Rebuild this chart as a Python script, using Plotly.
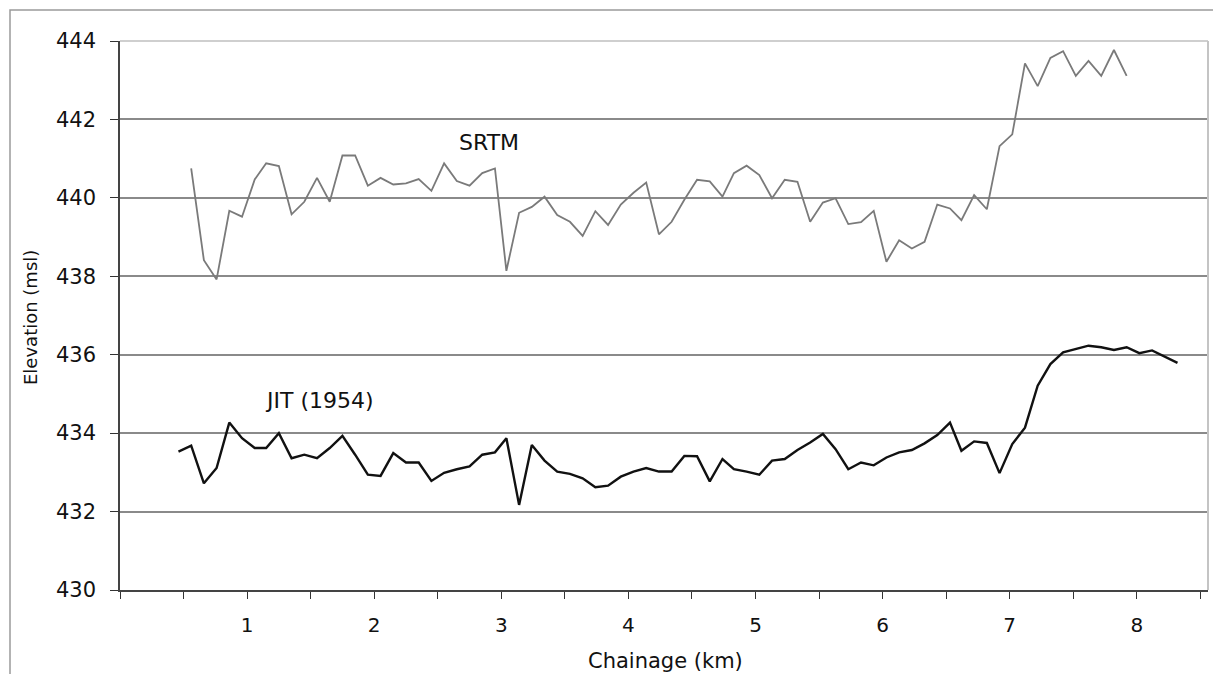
import plotly.graph_objects as go

# Chainage (km) (shared sampling grid)
CHAINAGE_JIT = [0.46, 0.56, 0.66, 0.76, 0.86, 0.96, 1.06, 1.15, 1.25, 1.35,
                1.45, 1.55, 1.65, 1.75, 1.85, 1.95, 2.05, 2.15, 2.25, 2.35,
                2.45, 2.55, 2.65, 2.75, 2.85, 2.95, 3.04, 3.14, 3.24, 3.34,
                3.44, 3.54, 3.64, 3.74, 3.84, 3.94, 4.04, 4.14, 4.24, 4.34,
                4.44, 4.54, 4.64, 4.74, 4.83, 4.93, 5.03, 5.13, 5.23, 5.33,
                5.43, 5.53, 5.63, 5.73, 5.83, 5.93, 6.03, 6.13, 6.23, 6.33,
                6.43, 6.53, 6.62, 6.72, 6.82, 6.92, 7.02, 7.12, 7.22, 7.32,
                7.42, 7.52, 7.62, 7.72, 7.82, 7.92, 8.02, 8.12, 8.22, 8.32]

CHAINAGE_SRTM = [0.56, 0.66, 0.76, 0.86, 0.96, 1.06, 1.15, 1.25, 1.35,
                 1.45, 1.55, 1.65, 1.75, 1.85, 1.95, 2.05, 2.15, 2.25, 2.35,
                 2.45, 2.55, 2.65, 2.75, 2.85, 2.95, 3.04, 3.14, 3.24, 3.34,
                 3.44, 3.54, 3.64, 3.74, 3.84, 3.94, 4.04, 4.14, 4.24, 4.34,
                 4.44, 4.54, 4.64, 4.74, 4.83, 4.93, 5.03, 5.13, 5.23, 5.33,
                 5.43, 5.53, 5.63, 5.73, 5.83, 5.93, 6.03, 6.13, 6.23, 6.33,
                 6.43, 6.53, 6.62, 6.72, 6.82, 6.92, 7.02, 7.12, 7.22, 7.32,
                 7.42, 7.52, 7.62, 7.72, 7.82, 7.92]

SRTM_ELEV = [440.75, 438.41, 437.92, 439.67, 439.52, 440.47, 440.88, 440.81, 439.58, 439.90,
             440.51, 439.90, 441.08, 441.08, 440.31, 440.51, 440.34, 440.37, 440.48, 440.18,
             440.88, 440.43, 440.31, 440.63, 440.75, 438.14, 439.62, 439.77, 440.03, 439.56,
             439.39, 439.03, 439.66, 439.31, 439.83, 440.13, 440.39, 439.07, 439.39, 439.95,
             440.46, 440.42, 440.03, 440.63, 440.82, 440.58, 439.99, 440.46, 440.41, 439.39,
             439.88, 439.99, 439.33, 439.38, 439.67, 438.37, 438.92, 438.71, 438.88, 439.83,
             439.73, 439.43, 440.07, 439.71, 441.32, 441.62, 443.43, 442.85, 443.57, 443.74,
             443.11, 443.49, 443.11, 443.77, 443.11]

JIT_ELEV = [433.53, 433.68, 432.72, 433.11, 434.27, 433.87, 433.62, 433.62, 434.00, 433.36,
            433.45, 433.36, 433.62, 433.93, 433.45, 432.94, 432.91, 433.49, 433.25, 433.25,
            432.78, 432.99, 433.08, 433.15, 433.45, 433.51, 433.87, 432.17, 433.70, 433.30,
            433.02, 432.96, 432.85, 432.62, 432.66, 432.89, 433.02, 433.11, 433.02, 433.02,
            433.42, 433.41, 432.77, 433.34, 433.08, 433.02, 432.94, 433.30, 433.34, 433.57,
            433.76, 433.98, 433.59, 433.08, 433.25, 433.18, 433.38, 433.51, 433.57, 433.74,
            433.95, 434.27, 433.55, 433.79, 433.75, 432.98, 433.72, 434.14, 435.21, 435.76,
            436.06, 436.14, 436.23, 436.19, 436.12, 436.19, 436.04, 436.11, 435.96, 435.79]

Y_TICKS = [430, 432, 434, 436, 438, 440, 442, 444]
X_TICKS = [0, 0.5, 1, 1.5, 2, 2.5, 3, 3.5, 4, 4.5, 5, 5.5, 6, 6.5, 7, 7.5, 8, 8.5]
X_TICK_TEXT = ["", "", "1", "", "2", "", "3", "", "4", "", "5", "", "6", "", "7", "", "8", ""]

FONT = "DejaVu Sans"

fig = go.Figure()
fig.add_trace(go.Scatter(x=CHAINAGE_SRTM, y=SRTM_ELEV, mode="lines", name="SRTM",
                         line=dict(color="#7a7a7a", width=1.8), showlegend=False))
fig.add_trace(go.Scatter(x=CHAINAGE_JIT, y=JIT_ELEV, mode="lines", name="JIT (1954)",
                         line=dict(color="#111111", width=2.4), showlegend=False))

# the page body has an 8px margin, so the figure starts at (8, 8)
fig.update_layout(
    width=1221, height=674,
    margin=dict(l=112, r=21, t=33, b=92),
    paper_bgcolor="white", plot_bgcolor="white",
    font=dict(family=FONT, color="#111111"),
    xaxis=dict(range=[0, 8.56], tickmode="array", tickvals=X_TICKS, ticktext=X_TICK_TEXT,
               ticks="outside", ticklen=7, tickwidth=1.2, tickcolor="#333333",
               showline=True, linecolor="#444444", linewidth=2, showgrid=False,
               zeroline=False, tickfont=dict(size=20, family=FONT, color="#111111"),
               ticklabelstandoff=9),
    yaxis=dict(range=[430, 444], tickmode="array", tickvals=Y_TICKS,
               ticks="outside", ticklen=8, tickwidth=1.2, tickcolor="#333333",
               showline=True, linecolor="#444444", linewidth=1.5,
               showgrid=True, gridcolor="#8a8a8a", gridwidth=1.8,
               zeroline=False, tickfont=dict(size=21, family=FONT, color="#111111"),
               ticklabelstandoff=10),
)

# plot-area border (light) on top and right, outer chart frame
fig.add_shape(type="line", xref="paper", yref="paper", x0=0, x1=1, y0=1, y1=1,
              line=dict(color="#cfcfcf", width=2), layer="above")
fig.add_shape(type="line", xref="paper", yref="paper", x0=1, x1=1, y0=0, y1=1,
              line=dict(color="#c4c4c4", width=2), layer="above")
fig.add_shape(type="rect", xref="paper", yref="paper", x0=-0.1011, x1=1.05, y0=-0.3, y1=1.0565,
              line=dict(color="#9a9a9a", width=1.5), layer="above")

fig.add_annotation(x=2.9, y=441.41, text="SRTM", showarrow=False,
                   font=dict(size=22, family=FONT, color="#111111"))
fig.add_annotation(x=1.57, y=434.82, text="JIT (1954)", showarrow=False,
                   font=dict(size=22, family=FONT, color="#111111"))

fig.add_annotation(xref="paper", yref="paper", x=(665 - 120) / 1088, y=-(661 - 590) / 549,
                   xanchor="center", yanchor="middle",
                   text="Chainage (km)", showarrow=False,
                   font=dict(size=21, family=FONT, color="#111111"))
fig.add_annotation(xref="paper", yref="paper", x=-(120 - 30) / 1088, y=(590 - 318) / 549,
                   xanchor="center", yanchor="middle",
                   text="Elevation (msl)", showarrow=False, textangle=-90,
                   font=dict(size=18, family=FONT, color="#111111"))

fig.write_html("out.html")
